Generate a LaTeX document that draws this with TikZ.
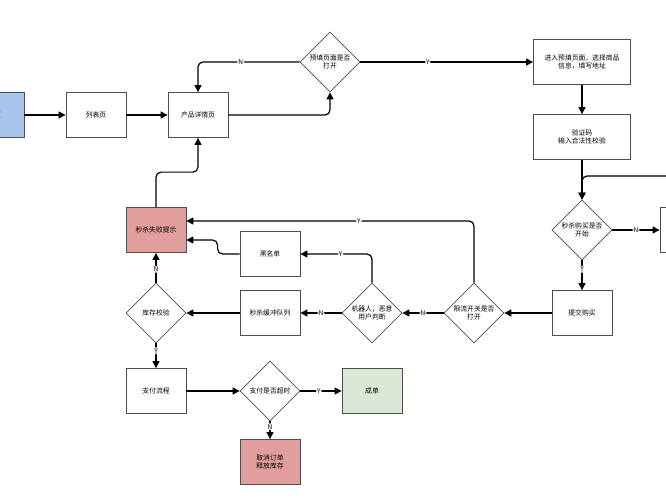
\documentclass[tikz,border=0pt]{standalone}
\usepackage{fontspec}
\setmainfont{Noto Sans CJK SC}
\usepackage{tikz}
\usetikzlibrary{arrows.meta}
\usetikzlibrary{calc}
\usetikzlibrary{shapes.geometric}

\definecolor{boxline}{HTML}{4D4D4D}
\definecolor{startblue}{HTML}{A9C4EB}
\definecolor{failred}{HTML}{E29D9D}
\definecolor{okgreen}{HTML}{DAE8D4}

\begin{document}
\begin{tikzpicture}[x=1pt,y=-1pt,
        font=\fontsize{6.8}{8}\selectfont,
        box/.style={draw=boxline,line width=0.8pt,minimum width=60pt,minimum height=45pt,inner sep=1pt,align=center},
        choice/.style={draw=boxline,line width=0.8pt,diamond,minimum width=60pt,minimum height=60pt,inner sep=0pt,align=center},
        flow/.style={line width=1.2pt,-{Triangle[length=7pt,width=7pt]},rounded corners=5pt},
        yn/.style={fill=white,inner sep=1pt,font=\fontsize{6.5}{7}\selectfont}]
            \useasboundingbox (0,0) rectangle (666,500);

            \node[box,fill=startblue] (home) at (-6,115) {首页};
            \node[box] (list) at (96,115) {列表页};
            \node[box] (detail) at (198,115) {产品详情页};
            \node[choice] (open) at (330,62) {预填页面是否\\打开};
            \node[box,minimum width=97pt] (prefill) at (582,62) {进入预填页面，选择商品\\信息，填写地址};
            \node[box,minimum width=97pt] (captcha) at (582,137) {验证码\\输入合法性校验};
            \node[choice] (start) at (582,230) {秒杀购买是否\\开始};
            \node[box] (wait) at (690,230) {};
            \coordinate (back) at (670,176);
            \node[box] (submit) at (582,313) {提交购买};
            \node[choice] (limit) at (474,313) {限流开关是否\\打开};
            \node[choice] (robot) at (372,313) {机器人，恶意\\用户判断};
            \node[box] (black) at (270,254) {黑名单};
            \node[box] (queue) at (270,313) {秒杀缓冲队列};
            \node[box,fill=failred] (fail) at (156,230) {秒杀失败提示};
            \node[choice] (stock) at (156,313) {库存校验};
            \node[box] (pay) at (156,391) {支付流程};
            \node[choice] (timeout) at (270,391) {支付是否超时};
            \node[box,fill=okgreen] (done) at (372,391) {成单};
            \node[box,fill=failred] (cancel) at (270,462) {取消订单\\释放库存};

            \draw[flow] (home) -- (list);
            \draw[flow] (list) -- (detail);
            \draw[flow] (detail.east) -| (open.south);
            \draw[flow] (open.west) -| (detail.north) node[yn,pos=0.29] {N};
            \draw[flow] (open.east) -- (prefill.west) node[yn,pos=0.39] {Y};
            \draw[flow] (prefill) -- (captcha);
            \draw[flow] (captcha) -- (start.north);
            \draw[flow] (back) -| (start.north);
            \draw[flow] (start.east) -- (wait.west) node[yn,pos=0.5] {N};
            \draw[flow] (start.south) -- (submit.north) node[yn,pos=0.3] {Y};

            \draw[flow] (submit.west) -- (limit.east);
            \draw[flow] (limit.north) |- ([yshift=9pt]fail.east) node[yn,pos=0.7] {Y};
            \draw[flow] (limit.west) -- (robot.east) node[yn,pos=0.5] {N};
            \draw[flow] (robot.north) |- (black.east) node[yn,pos=0.72] {Y};
            \draw[flow] (black.west) -- ++(-22,0) |- ([yshift=-10pt]fail.east);
            \draw[flow] (robot.west) -- (queue.east) node[yn,pos=0.5] {N};
            \draw[flow] (queue.west) -- (stock.east);
            \draw[flow] (stock.north) -- (fail.south) node[yn,pos=0.45] {N};
            \draw[flow] (fail.north) -- ++(0,-35) -| (detail.south);

            \draw[flow] (stock.south) -- (pay.north) node[yn,pos=0.3] {Y};
            \draw[flow] (pay.east) -- (timeout.west);
            \draw[flow] (timeout.east) -- (done.west) node[yn,pos=0.45] {Y};
            \draw[flow] (timeout.south) -- (cancel.north) node[yn,pos=0.3] {N};
        \end{tikzpicture}
\end{document}
